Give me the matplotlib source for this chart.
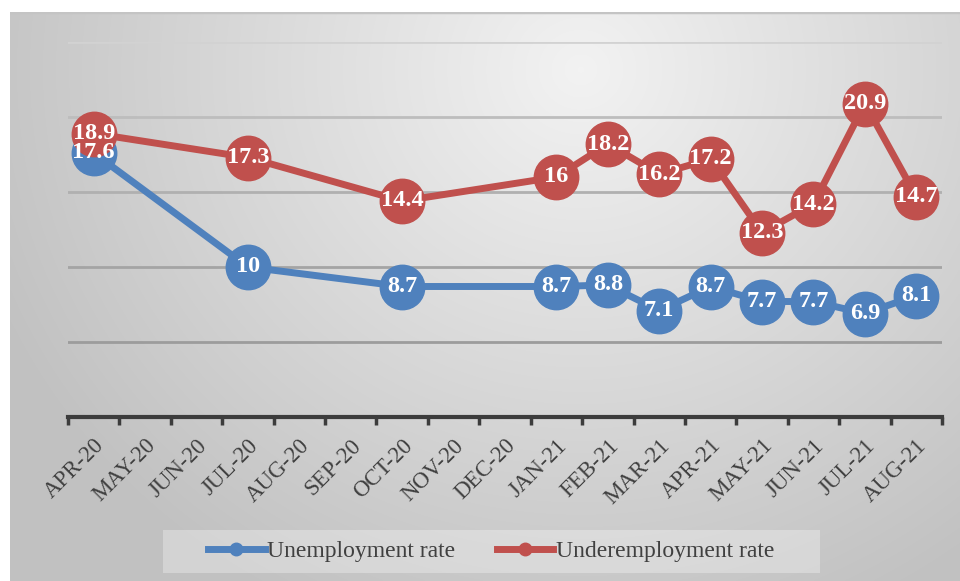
import numpy as np
import matplotlib
matplotlib.use("Agg")
import matplotlib.pyplot as plt
from matplotlib.lines import Line2D
from matplotlib.patches import Rectangle

months = ["APR-20", "MAY-20", "JUN-20", "JUL-20", "AUG-20", "SEP-20", "OCT-20",
          "NOV-20", "DEC-20", "JAN-21", "FEB-21", "MAR-21", "APR-21", "MAY-21",
          "JUN-21", "JUL-21", "AUG-21"]
unemployment = [17.6, None, None, 10, None, None, 8.7, None, None, 8.7, 8.8,
                7.1, 8.7, 7.7, 7.7, 6.9, 8.1]
underemployment = [18.9, None, None, 17.3, None, None, 14.4, None, None, 16,
                   18.2, 16.2, 17.2, 12.3, 14.2, 20.9, 14.7]
series_names = ["Unemployment rate", "Underemployment rate"]
colors = ["#4f81bd", "#c0504d"]

plt.rcParams['font.family'] = ['Liberation Serif', 'DejaVu Serif']

W, H = 960, 581
fig = plt.figure(figsize=(W / 100, H / 100), dpi=100)
fig.patch.set_facecolor("white")

# background gradient of the chart area
bg = fig.add_axes([10 / W, 0, (W - 10) / W, (H - 12) / H], zorder=-10)
ny, nx = 300, 500
yy, xx = np.mgrid[0:ny, 0:nx]
cx, cy = 0.6 * nx, 0.1 * ny
r = np.sqrt(((xx - cx) / (0.7 * nx)) ** 2 + ((yy - cy) / (1.1 * ny)) ** 2)
val = np.clip(0.95 - 0.2 * r, 0.76, 0.95)
img = np.dstack([val, val, val])
bg.imshow(img, aspect="auto", extent=[0, 1, 0, 1], origin="upper",
          interpolation="bilinear")
bg.set_xlim(0, 1)
bg.set_ylim(0, 1)
bg.axis("off")
bg.axhline(1.0, color="#c4c4c4", lw=2.5)

ax = fig.add_axes([68 / W, (H - 417) / H, (942 - 68) / W, (417 - 42) / H])
ax.set_facecolor("none")
x = np.arange(len(months))
ax.set_xlim(-0.5, len(months) - 0.5)
ax.set_ylim(0, 25)
ax.set_yticks([0, 5, 10, 15, 20, 25])
ax.yaxis.grid(True, linewidth=2)
grid_cols = ["#000000", "#9c9c9c", "#a4a4a4", "#b0b0b0", "#bdbdbd", "#d2d2d2"]
for gl, c in zip(ax.get_ygridlines(), grid_cols):
    gl.set_color(c)
ax.get_ygridlines()[0].set_visible(False)
ax.tick_params(axis="y", left=False, labelleft=False)
for s in ["left", "right", "top"]:
    ax.spines[s].set_visible(False)
ax.spines["bottom"].set_color("#3c3c3c")
ax.spines["bottom"].set_linewidth(3)
ax.set_xticks(np.arange(len(months) + 1) - 0.5)
ax.set_xticklabels([])
ax.tick_params(axis="x", which="major", direction="out", length=6, width=2.5,
               color="#3c3c3c")
ax.set_xticks(x, minor=True)
ax.set_xticklabels(months, minor=True, rotation=45, ha="right",
                   rotation_mode="anchor", fontsize=16.5, color="#404040")
ax.tick_params(axis="x", which="minor", length=0, pad=13)

for vals, col, z in [(unemployment, colors[0], 3), (underemployment, colors[1], 4)]:
    xs = [i for i, v in enumerate(vals) if v is not None]
    ys = [v for v in vals if v is not None]
    ax.plot(xs, ys, color=col, lw=5, marker="o", ms=32, mec=col, mfc=col,
            zorder=z, clip_on=False, solid_capstyle="round")

for vals in [unemployment, underemployment]:
    for i, v in enumerate(vals):
        if v is None:
            continue
        ax.text(i, v, f"{v:g}", ha="center", va="center", color="white",
                fontsize=17.5, fontweight="bold", zorder=10, clip_on=False)

# legend box
fig.patches.append(Rectangle((163 / W, 1 - 573 / H), (820 - 163) / W, 43 / H,
                             transform=fig.transFigure, facecolor="white",
                             alpha=0.3, edgecolor="none", zorder=1))
handles = [Line2D([], [], color=c, lw=5, marker="o", ms=9) for c in colors]
leg = fig.legend(handles, series_names, loc="center",
                 bbox_to_anchor=(491 / W, 1 - 551 / H), ncol=2, frameon=False,
                 fontsize=17, handlelength=2.4, handletextpad=0.1,
                 columnspacing=1.75)
for t in leg.get_texts():
    t.set_color("#404040")

fig.savefig("out.png", dpi=100)
